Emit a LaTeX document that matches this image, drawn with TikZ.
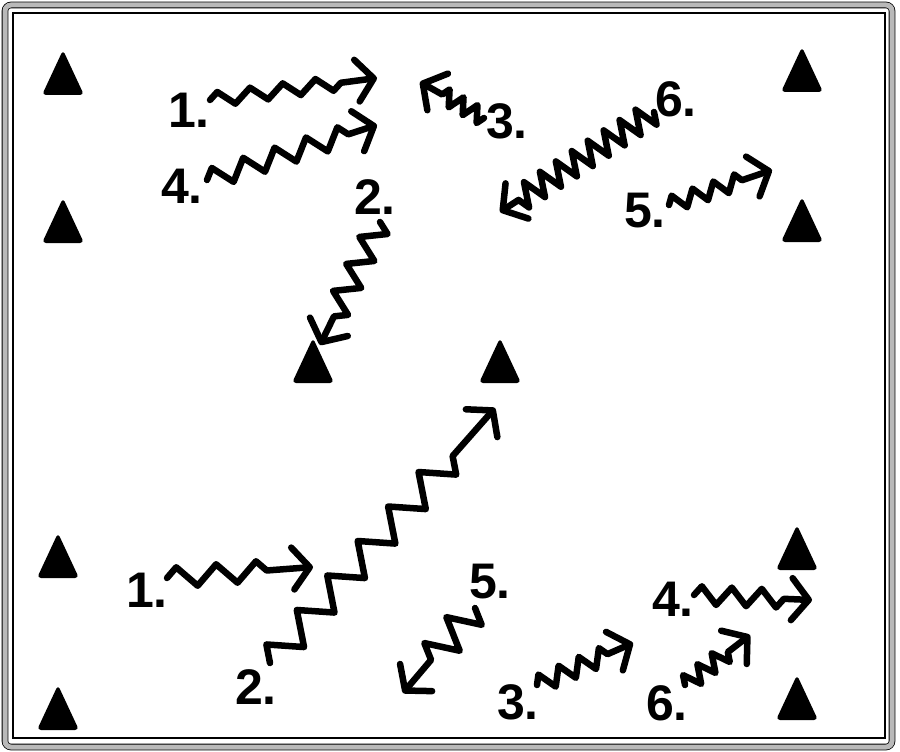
\documentclass[tikz,border=0pt]{standalone}
\usepackage{fontspec}
\setmainfont{Liberation Sans}
\usetikzlibrary{arrows.meta,decorations.pathmorphing}

\begin{document}
\begin{tikzpicture}[x=1pt,y=-1pt,
    num/.style={font=\fontsize{50}{50}\selectfont\bfseries, inner sep=0pt},
    cone/.style={fill=black, rounded corners=4pt},
    run/.style={line width=6.5pt, line join=round, line cap=round, decorate,
        -{Straight Barb[length=17pt,width=42pt,round]}},
    wave/.style n args={3}{decoration={zigzag, amplitude=#1, segment length=#2, post length=#3}}
    ]
    \useasboundingbox (0,0) rectangle (900,752);
    % field border
    \draw[line width=0.8pt, double=gray!55, double distance=5pt, rounded corners=6pt] (5,5) rectangle (892,747);
    \draw[line width=1.4pt] (13,13) rectangle (885,738);

    % cones
    \foreach \cx/\cy in {63/95, 63/243, 58/578, 58/730, 802/92, 802/242, 313/383, 500/383, 797/570, 797/720}
        \fill[cone] (\cx-21,\cy) -- (\cx,\cy-45) -- (\cx+21,\cy) -- cycle;

    % upper drill
    \node[num] (u1) at (189,110) {1.};
    \node[num] (u4) at (182,186) {4.};
    \node[num] (u2) at (375,197) {2.};
    \node[num] (u3) at (507,121) {3.};
    \node[num] (u6) at (676,99) {6.};
    \node[num] (u5) at (645,211) {5.};
    \coordinate (u1s) at (210,100);  \coordinate (u1e) at (377,78);
    \coordinate (u4s) at (207,180);  \coordinate (u4e) at (377,125);
    \coordinate (u2s) at (380,222);  \coordinate (u2e) at (320,345);
    \coordinate (u3s) at (484,118);  \coordinate (u3e) at (420,82);
    \coordinate (u6s) at (654,112);  \coordinate (u6e) at (500,212);
    \coordinate (u5s) at (669,205);  \coordinate (u5e) at (772,170);
    \draw[run, wave={7}{33}{30}] (u1s) -- (u1e);
    \draw[run, wave={10}{33}{25}] (u4s) -- (u4e);
    \draw[run, wave={12}{30}{22}] (u2s) -- (u2e);
    \draw[run, wave={8}{16}{22}] (u3s) -- (u3e);
    \draw[run, wave={12}{19}{22}] (u6s) -- (u6e);
    \draw[run, wave={8}{22}{22}] (u5s) -- (u5e);

    % lower drill
    \node[num] (l1) at (147,590) {1.};
    \node[num] (l2) at (256,687) {2.};
    \node[num] (l5) at (490,582) {5.};
    \node[num] (l3) at (518,702) {3.};
    \node[num] (l4) at (673,599) {4.};
    \node[num] (l6) at (667,703) {6.};
    \coordinate (l1s) at (167,578);  \coordinate (l1e) at (313,567);
    \coordinate (l2s) at (270,663);  \coordinate (l2e) at (495,408);
    \coordinate (l5s) at (475,608);  \coordinate (l5e) at (403,693);
    \coordinate (l3s) at (537,685);  \coordinate (l3e) at (633,643);
    \coordinate (l4s) at (694,595);  \coordinate (l4e) at (812,600);
    \coordinate (l6s) at (685,685);  \coordinate (l6e) at (750,635);
    \draw[run, wave={10}{40}{30}] (l1s) -- (l1e);
    \draw[run, wave={15}{46}{62}] (l2s) -- (l2e);
    \draw[run, wave={16}{34}{30}] (l5s) -- (l5e);
    \draw[run, wave={9}{22}{22}] (l3s) -- (l3e);
    \draw[run, wave={9}{30}{22}] (l4s) -- (l4e);
    \draw[run, wave={9}{18}{20}] (l6s) -- (l6e);
\end{tikzpicture}
\end{document}
